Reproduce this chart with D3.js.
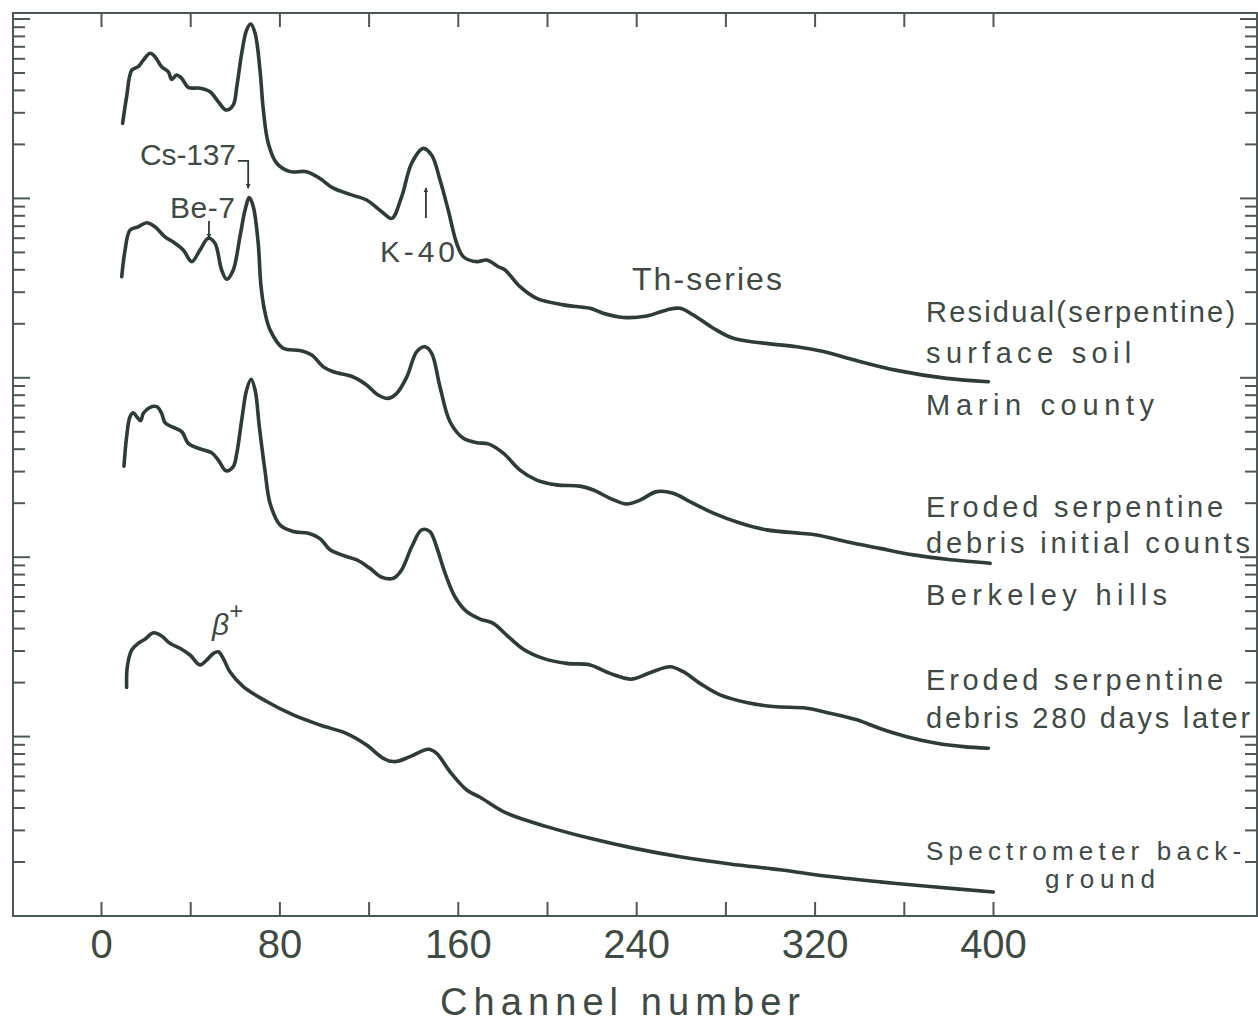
<!DOCTYPE html>
<html>
<head>
<meta charset="utf-8">
<script src="https://cdn.jsdelivr.net/npm/d3@7"></script>
<style>
  body { margin: 0; background: #fff; }
  svg { display: block; }
</style>
</head>
<body>
<div id="chart"></div>
<script>
// spectra: channel number and relative counts (log scale)
const residualCh = [9.7, 11.5, 13.8, 16.7, 19.0, 22.0, 24.2, 27.2, 30.2, 31.7, 33.9, 36.2, 39.1, 44.4, 48.9,
  52.6, 56.1, 59.3, 60.9, 63.1, 65.3, 67.1, 69.1, 71.3, 72.8, 75.0, 78.8, 84.8, 92.2, 98.2, 104.2, 113.1,
  119.1, 125.9, 130.4, 134.8, 139.3, 144.5, 148.3, 152.0, 155.7, 159.5, 162.5, 168.5, 173.0, 178.2, 181.2,
  187.9, 195.4, 207.3, 219.3, 225.2, 234.2, 244.7, 253.7, 259.6, 265.6, 274.6, 283.5, 297.0, 312.0, 323.9,
  337.4, 356.8, 379.2, 397.9];
const residualCounts = [26200, 36900, 51900, 54200, 59000, 64400, 61600, 54200, 50800, 46100, 48700, 46700,
  41600, 41100, 39300, 34600, 31100, 33200, 41900, 64400, 86800, 93800, 83200, 51900, 31100, 20300, 15700,
  14100, 14100, 12900, 11400, 10400, 9800, 8430, 7740, 10200, 15700, 19000, 17400, 12700, 8610, 5620, 4730,
  4440, 4530, 4160, 3990, 3220, 2770, 2550, 2440, 2290, 2170, 2210, 2390, 2440, 2240, 1890, 1660, 1560,
  1490, 1400, 1260, 1100, 993, 951];

const initialCh = [9.3, 10.8, 13.0, 16.7, 20.5, 24.2, 28.7, 33.2, 36.9, 40.7, 44.4, 48.1, 51.1, 54.1, 56.4,
  59.3, 62.3, 64.6, 66.5, 68.3, 70.5, 71.7, 73.3, 75.8, 81.7, 89.2, 94.5, 99.7, 104.2, 113.1, 119.1, 124.3,
  128.8, 132.6, 137.1, 141.6, 145.3, 148.3, 152.0, 156.5, 162.5, 168.5, 173.7, 180.4, 187.9, 195.4, 204.3,
  214.8, 220.8, 228.3, 235.7, 241.7, 249.2, 256.6, 264.1, 274.6, 286.5, 298.5, 313.5, 320.9, 334.4, 349.3,
  364.3, 379.2, 398.7];
const initialCounts = [3660, 5160, 6660, 6950, 7320, 6950, 6110, 5620, 5160, 4440, 5160, 5990, 5620, 3990,
  3540, 3990, 6110, 8610, 10100, 8990, 5620, 3290, 2390, 1850, 1460, 1420, 1340, 1150, 1080, 1010, 912, 802,
  768, 819, 1010, 1400, 1490, 1370, 892, 569, 460, 435, 428, 380, 306, 269, 253, 249, 237, 213, 198, 208,
  232, 227, 204, 176, 155, 142, 136, 133, 122, 112, 103, 97.3, 92.5];

const laterCh = [10.3, 11.5, 13.0, 14.5, 16.0, 17.8, 19.0, 22.0, 25.0, 27.2, 28.7, 31.7, 36.2, 39.1, 43.6,
  49.6, 52.6, 56.1, 59.3, 60.9, 63.1, 65.3, 67.3, 69.1, 71.0, 73.5, 75.8, 80.3, 86.2, 93.0, 98.2, 102.7,
  107.9, 114.7, 120.6, 125.9, 131.1, 134.8, 139.3, 143.8, 147.5, 150.5, 154.3, 158.7, 164.0, 170.0, 175.9,
  181.9, 189.4, 198.3, 208.8, 219.3, 228.3, 238.0, 246.2, 255.2, 261.1, 268.6, 277.6, 289.5, 301.5, 316.5,
  326.9, 338.9, 349.3, 361.3, 374.7, 386.7, 397.9];
const laterCounts = [322, 470, 607, 639, 607, 577, 634, 685, 690, 634, 562, 534, 501, 431, 405, 382, 348,
  303, 320, 380, 582, 855, 981, 855, 534, 306, 200, 151, 139, 136, 127, 110, 103, 96.5, 86.7, 77.3, 76.3,
  84.9, 114, 142, 139, 114, 81.4, 60.2, 49.7, 45.2, 42.8, 36.8, 30.7, 27.3, 25.6, 25.1, 22.5, 20.9, 22.7,
  24.5, 23.0, 19.8, 17.1, 15.5, 14.7, 14.4, 13.5, 12.4, 11.1, 9.99, 9.18, 8.79, 8.61];

const backgroundCh = [11.5, 11.8, 13.8, 16.7, 19.7, 23.5, 27.2, 30.9, 35.4, 39.9, 44.4, 47.4, 50.4, 52.6,
  54.8, 57.8, 63.8, 74.3, 86.2, 98.2, 110.2, 119.1, 126.6, 131.8, 138.6, 146.8, 150.5, 156.5, 164.0, 170.0,
  181.9, 199.9, 219.3, 238.7, 259.6, 282.1, 304.5, 326.9, 349.3, 371.7, 400.1];
const backgroundCounts = [18.8, 24.5, 30.4, 33.1, 34.9, 37.9, 36.4, 33.1, 31.1, 28.5, 25.1, 26.7, 29.1, 29.7,
  27.3, 23.0, 19.0, 15.7, 13.2, 11.6, 10.4, 8.98, 7.57, 7.25, 7.73, 8.50, 8.07, 6.37, 5.04, 4.59, 3.74, 3.15,
  2.71, 2.39, 2.14, 1.95, 1.81, 1.66, 1.55, 1.46, 1.36];

const channelTicks = [0, 40, 80, 120, 160, 200, 240, 280, 320, 360, 400];
const labeledTicks = [0, 80, 160, 240, 320, 400];

const residualLabel = ["Residual(serpentine)", "surface  soil", "Marin  county"];
const initialLabel = ["Eroded  serpentine", "debris  initial counts", "Berkeley  hills"];
const laterLabel = ["Eroded  serpentine", "debris  280 days later"];
const backgroundLabel = ["Spectrometer  back-", "ground"];
const peakNames = ["Cs-137", "Be-7", "K-40", "Th-series"];

const W = 1258, H = 1026;
const ink = "#2f3b35";
const textInk = "#3f4a44";
const font = "'Liberation Sans', Arial, sans-serif";

const frame = { left: 13, top: 13, right: 1257, bottom: 916 };

const svg = d3.select("#chart").append("svg")
  .attr("width", W)
  .attr("height", H)
  .style("background", "#fff");

const x = d3.scaleLinear().domain([0, 400]).range([101, 993]);
const y = d3.scaleLog().domain([1, 1e5]).range([frame.bottom, 19]);

// frame
svg.append("rect")
  .attr("x", frame.left)
  .attr("y", frame.top)
  .attr("width", frame.right - frame.left)
  .attr("height", frame.bottom - frame.top)
  .attr("fill", "none")
  .attr("stroke", "#4c5852")
  .attr("stroke-width", 2);

// bottom axis, ticks pointing inward
const xAxis = svg.append("g")
  .attr("transform", `translate(0,${frame.bottom})`)
  .call(d3.axisBottom(x)
    .tickValues(channelTicks)
    .tickSizeInner(-14)
    .tickSizeOuter(0)
    .tickPadding(14)
    .tickFormat(d => labeledTicks.includes(d) ? d : ""));
xAxis.select(".domain").remove();
xAxis.selectAll(".tick line").attr("stroke", "#4c5852").attr("stroke-width", 2);
xAxis.selectAll(".tick text")
  .attr("fill", textInk)
  .style("font-family", font)
  .style("font-size", "40px");

// top axis ticks
const xTop = svg.append("g")
  .attr("transform", `translate(0,${frame.top})`)
  .call(d3.axisTop(x).tickValues(channelTicks).tickSizeInner(-14).tickSizeOuter(0).tickFormat(""));
xTop.select(".domain").remove();
xTop.selectAll(".tick line").attr("stroke", "#4c5852").attr("stroke-width", 2);

// log ticks on both sides
const logTicks = y.ticks().filter(v => v > 1);
const isDecade = v => Math.abs(Math.log10(v) - Math.round(Math.log10(v))) < 1e-9;

svg.append("g").selectAll("line")
  .data(logTicks)
  .join("line")
  .attr("x1", frame.left)
  .attr("x2", d => frame.left + (isDecade(d) ? 17 : 12))
  .attr("y1", d => y(d))
  .attr("y2", d => y(d))
  .attr("stroke", "#4c5852")
  .attr("stroke-width", 2);

svg.append("g").selectAll("line")
  .data(logTicks)
  .join("line")
  .attr("x1", frame.right)
  .attr("x2", d => frame.right - (isDecade(d) ? 17 : 12))
  .attr("y1", d => y(d))
  .attr("y2", d => y(d))
  .attr("stroke", "#4c5852")
  .attr("stroke-width", 2);

// axis title
svg.append("text")
  .attr("x", 620)
  .attr("y", 1015)
  .attr("text-anchor", "middle")
  .attr("fill", textInk)
  .attr("textLength", 360)
  .attr("lengthAdjust", "spacing")
  .style("font-family", font)
  .style("font-size", "38px")
  .text("Channel  number");

// spectra
const series = [
  { ch: residualCh, counts: residualCounts },
  { ch: initialCh, counts: initialCounts },
  { ch: laterCh, counts: laterCounts },
  { ch: backgroundCh, counts: backgroundCounts }
];

const line = d3.line()
  .x(d => x(d.ch))
  .y(d => y(d.c))
  .curve(d3.curveCatmullRom.alpha(0.5));

svg.append("g").selectAll("path")
  .data(series)
  .join("path")
  .attr("d", s => line(s.ch.map((c, i) => ({ ch: c, c: s.counts[i] }))))
  .attr("fill", "none")
  .attr("stroke", ink)
  .attr("stroke-width", 3.6)
  .attr("stroke-linejoin", "round")
  .attr("stroke-linecap", "round");

// arrow marker
svg.append("defs").append("marker")
  .attr("id", "head")
  .attr("viewBox", "0 0 10 10")
  .attr("refX", 9)
  .attr("refY", 5)
  .attr("markerWidth", 5)
  .attr("markerHeight", 5)
  .attr("markerUnits", "userSpaceOnUse")
  .attr("orient", "auto")
  .append("path")
  .attr("d", "M0,0 L10,5 L0,10 Z")
  .attr("fill", ink);

function label(text, xp, yp, size, len) {
  const t = svg.append("text")
    .attr("x", xp)
    .attr("y", yp)
    .attr("fill", textInk)
    .style("font-family", font)
    .style("font-size", size + "px")
    .text(text);
  if (len) t.attr("textLength", len).attr("lengthAdjust", "spacing");
  return t;
}

// peak annotations
label(peakNames[0], x(17.5), y(15350), 30, 96);
svg.append("polyline")
  .attr("points", [[x(61.4), y(16200)], [x(66.0), y(16200)], [x(66.0), y(11400)]].map(p => p.join(",")).join(" "))
  .attr("fill", "none")
  .attr("stroke", ink)
  .attr("stroke-width", 1.8)
  .attr("marker-end", "url(#head)");

label(peakNames[1], x(30.9), y(7775), 30, 65);
svg.append("line")
  .attr("x1", x(48.4)).attr("x2", x(48.4))
  .attr("y1", y(7480)).attr("y2", y(6010))
  .attr("stroke", ink)
  .attr("stroke-width", 1.8)
  .attr("marker-end", "url(#head)");

label(peakNames[2], x(125.1), y(4420), 30, 75);
svg.append("line")
  .attr("x1", x(145.7)).attr("x2", x(145.7))
  .attr("y1", y(7775)).attr("y2", y(11430))
  .attr("stroke", ink)
  .attr("stroke-width", 1.8)
  .attr("marker-end", "url(#head)");

label(peakNames[3], x(238.1), y(3085), 32, 150);

const beta = label("β", x(49.8), y(36.8), 30)
  .style("font-style", "italic");
beta.append("tspan")
  .attr("dy", -16)
  .style("font-size", "24px")
  .style("font-style", "normal")
  .text("+");

// series labels on the right
const labelCh = 370;
label(residualLabel[0], x(labelCh), y(2046), 29, 309);
label(residualLabel[1], x(labelCh), y(1209), 29, 205);
label(residualLabel[2], x(labelCh), y(620), 29, 228);
label(initialLabel[0], x(labelCh), y(167.5), 29, 297);
label(initialLabel[1], x(labelCh), y(105.5), 29, 324);
label(initialLabel[2], x(labelCh), y(54.1), 29, 241);
label(laterLabel[0], x(labelCh), y(18.2), 29, 297);
label(laterLabel[1], x(labelCh), y(11.17), 29, 324);
label(backgroundLabel[0], x(labelCh), y(2.05), 26, 315);
label(backgroundLabel[1], x(423.3), y(1.43), 26, 110);
</script>
</body>
</html>
